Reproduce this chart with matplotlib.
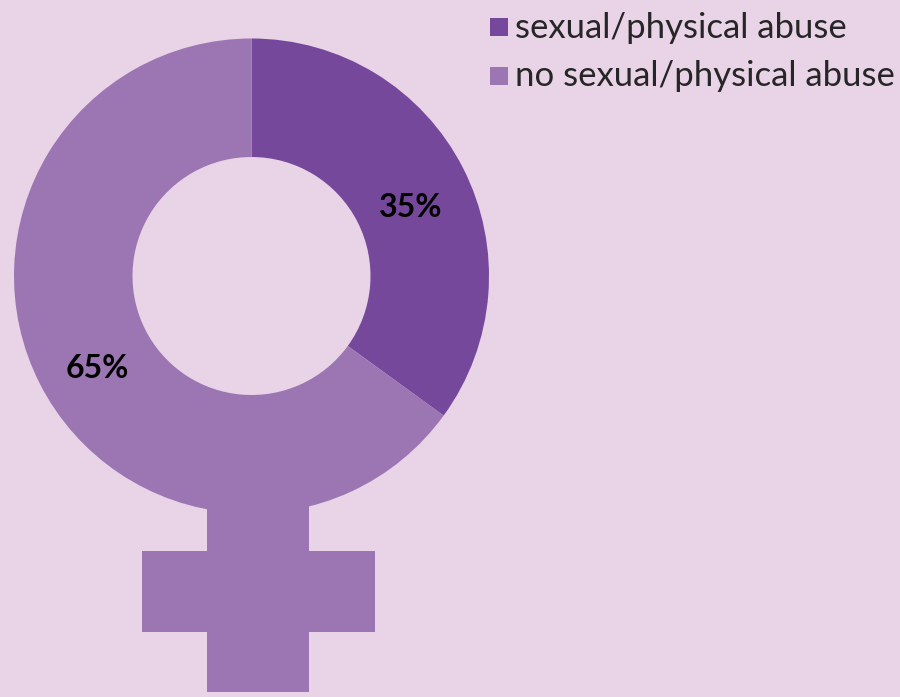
import numpy as np
import matplotlib
matplotlib.use('Agg')
import matplotlib.pyplot as plt
from matplotlib.patches import Rectangle, Wedge

labels = ['sexual/physical abuse', 'no sexual/physical abuse']
shares = [35, 65]
pct_labels = ['35%', '65%']
colors = ['#75489c', '#9b76b3']
bg = '#e9d3e6'

fig = plt.figure(figsize=(9, 6.97), dpi=100, facecolor=bg)
ax = fig.add_axes([0, 0, 1, 1])
ax.set_xlim(0, 900)
ax.set_ylim(697, 0)
ax.axis('off')

# the cross under the ring, drawn first so the ring sits on top
ax.add_patch(Rectangle((207, 480), 102, 212, color=colors[1], lw=0))
ax.add_patch(Rectangle((142, 551), 233, 81, color=colors[1], lw=0))

# y axis is flipped, so angles run clockwise from +x
cx, cy = 251.5, 276
start = -90
for share, col in zip(shares, colors):
    end = start + share * 3.6
    ax.add_patch(Wedge((cx, cy), 237.5, start, end, width=118.5, color=col, lw=0))
    start = end

font = 'Lato'
ax.text(411, 217, pct_labels[0], ha='center', va='baseline', fontsize=23,
        fontweight='bold', color='black', family=font)
ax.text(97, 378, pct_labels[1], ha='center', va='baseline', fontsize=23,
        fontweight='bold', color='black', family=font)

# legend
for y, base, lab, col in zip([27, 75.5], [38, 86], labels, colors):
    ax.add_patch(Rectangle((490, y - 9), 18, 18, color=col, lw=0))
    ax.text(515, base, lab, ha='left', va='baseline', fontsize=25, color='#262626', family=font)

fig.savefig('out.png', dpi=100, facecolor=bg)
